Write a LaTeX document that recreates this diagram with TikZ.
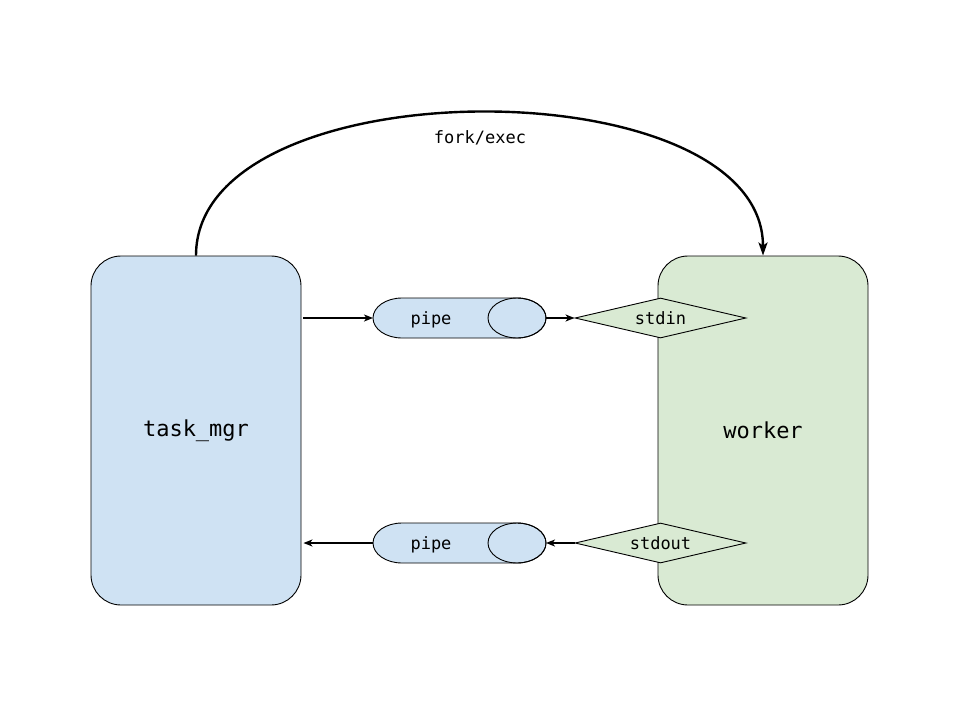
\documentclass[tikz,border=0pt]{standalone}
\usepackage{fontspec}
\setmonofont{DejaVu Sans Mono}
\usetikzlibrary{shapes.geometric,arrows.meta}
\definecolor{bluefill}{HTML}{CFE2F3}
\definecolor{greenfill}{HTML}{D9EAD3}
\begin{document}
\begin{tikzpicture}[x=1pt,y=1pt,
  proc/.style={draw=black,line width=0.9pt,rounded corners=30pt,minimum width=210pt,minimum height=349pt,inner sep=0pt,font=\ttfamily\fontsize{22}{26}\selectfont},
  pipebox/.style={rectangle,minimum width=173pt,minimum height=40pt,inner sep=0pt,outer sep=0pt},
  pipeline/.style={draw=black,line width=0.9pt,fill=bluefill},
  fd/.style={draw=black,line width=0.9pt,fill=greenfill,diamond,aspect=4.275,minimum width=171pt,minimum height=40pt,inner sep=0pt,font=\ttfamily\fontsize{17}{20}\selectfont},
  lbl/.style={inner sep=0pt,font=\ttfamily\fontsize{17}{20}\selectfont},
  arr/.style={line width=1.4pt,-{Stealth[length=9pt,width=7pt,inset=2.5pt]}}]
\useasboundingbox (0,0) rectangle (960,-720);
\node[proc,fill=bluefill] (tm) at (196,-430.5) {task\_mgr};
\node[proc,fill=greenfill] (w) at (763,-430.5) {worker};
% pipes
\node[pipebox] (p1) at (459.5,-318) {};
\node[pipebox] (p2) at (459.5,-543) {};
\foreach \p in {p1,p2}{
  \draw[pipeline] ([xshift=29pt]\p.north west) -- ([xshift=-29pt]\p.north east)
     arc[start angle=90,end angle=-90,x radius=29pt,y radius=20pt]
     -- ([xshift=29pt]\p.south west)
     arc[start angle=270,end angle=90,x radius=29pt,y radius=20pt] -- cycle;
  \draw[line width=0.9pt] ([xshift=-29pt]\p.east) ellipse[x radius=29pt,y radius=20pt];
}
\node[lbl] (p1t) at (431,-320) {pipe};
\node[lbl] (p2t) at (431,-545) {pipe};
\node[fd] (d1) at (660.5,-318) {stdin};
\node[fd] (d2) at (660.5,-543) {stdout};
\draw[arr,shorten <=2pt] (tm.east |- p1.west) -- (p1.west);
\draw[arr] (p1.east) -- (d1.west);
\draw[arr] (d2.west) -- (p2.east);
\draw[arr,shorten >=2pt] (p2.west) -- (tm.east |- p2.west);
\draw[line width=2.4pt,-{Stealth[length=13pt,width=9pt,inset=3pt]}] (tm.north) .. controls (196,-65) and (763,-65) .. (w.north);
\node[lbl] (fe) at (480,-138) {fork/exec};
\end{tikzpicture}
\end{document}
